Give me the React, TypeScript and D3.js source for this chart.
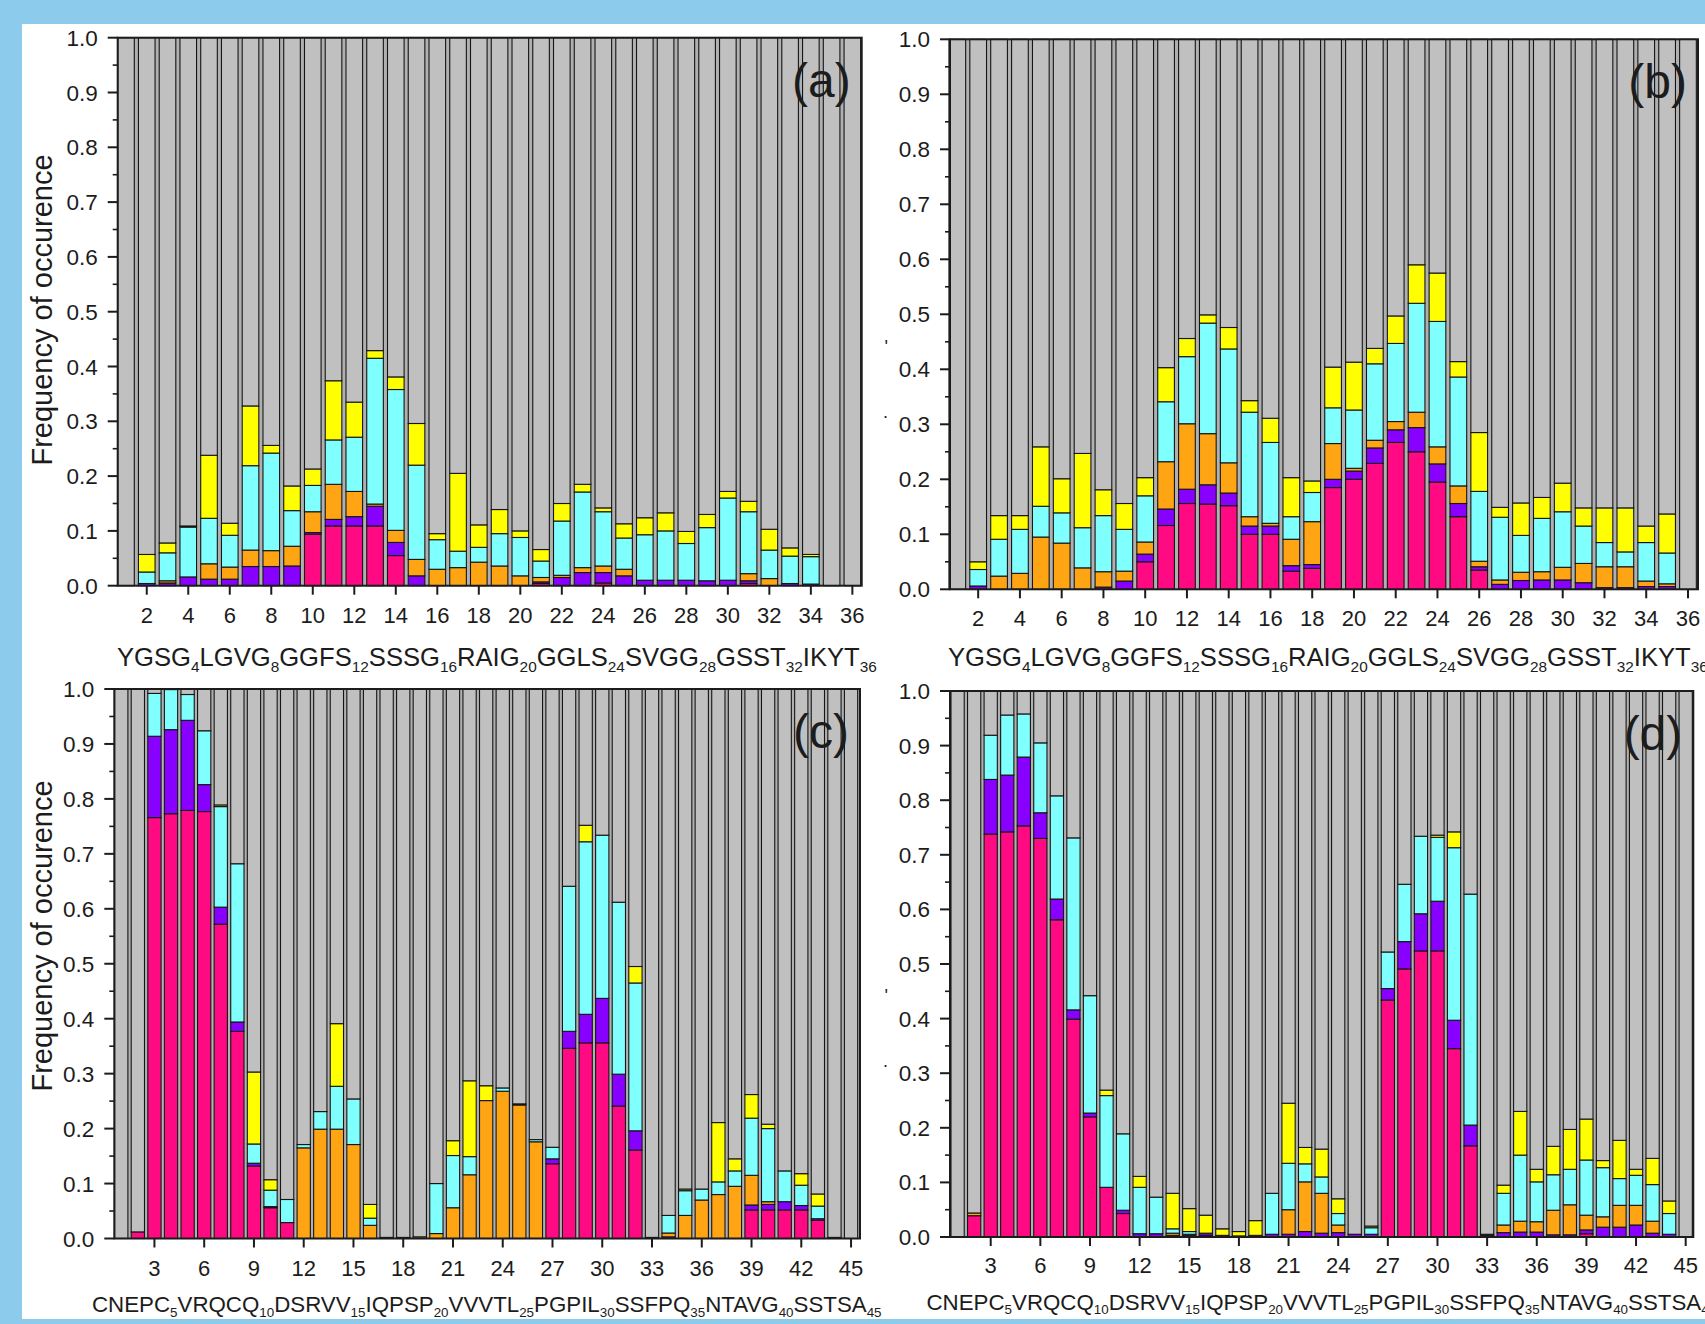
import React, { useEffect } from "react";
import * as d3 from "d3";

// stack order from the bottom; the grey part fills each bar up to 1.0
const KEYS = ["pink", "violet", "orange", "cyan", "yellow"];
const COLORS = {
  pink: "#ff0a82",
  violet: "#8800ff",
  orange: "#ffa514",
  cyan: "#80ffff",
  yellow: "#ffff00",
  rest: "#c0c0c0",
};

// ---- panel (a), residues 1..36
const aPink = [0, 0, 0, 0, 0, 0, 0, 0, 0, 0.094, 0.109, 0.109, 0.109, 0.055, 0, 0, 0, 0, 0, 0, 0.004, 0, 0, 0.005, 0, 0, 0, 0, 0, 0, 0.004, 0, 0, 0, 0, 0];
const aViolet = [0, 0.004, 0.005, 0.016, 0.012, 0.012, 0.035, 0.035, 0.036, 0.003, 0.012, 0.017, 0.036, 0.024, 0.018, 0, 0, 0, 0, 0, 0.003, 0.015, 0.024, 0.019, 0.018, 0.01, 0.01, 0.01, 0.009, 0.01, 0.005, 0, 0.004, 0.003, 0, 0];
const aOrange = [0, 0, 0.004, 0, 0.028, 0.022, 0.03, 0.029, 0.036, 0.038, 0.064, 0.046, 0.004, 0.022, 0.03, 0.03, 0.033, 0.043, 0.036, 0.018, 0.008, 0.004, 0.009, 0.012, 0.012, 0, 0, 0, 0, 0, 0.013, 0.013, 0, 0, 0, 0];
const aCyan = [0, 0.021, 0.051, 0.091, 0.083, 0.058, 0.154, 0.178, 0.065, 0.048, 0.081, 0.099, 0.266, 0.257, 0.172, 0.054, 0.03, 0.027, 0.059, 0.07, 0.03, 0.099, 0.138, 0.099, 0.057, 0.083, 0.09, 0.067, 0.097, 0.15, 0.113, 0.052, 0.05, 0.05, 0, 0];
const aYellow = [0, 0.032, 0.018, 0.002, 0.115, 0.022, 0.109, 0.014, 0.045, 0.03, 0.108, 0.064, 0.014, 0.023, 0.076, 0.011, 0.142, 0.041, 0.044, 0.012, 0.021, 0.032, 0.014, 0.007, 0.026, 0.031, 0.033, 0.022, 0.024, 0.012, 0.019, 0.038, 0.015, 0.004, 0, 0];

// ---- panel (b), residues 1..36
const bPink = [0, 0, 0, 0, 0, 0, 0, 0, 0, 0.05, 0.116, 0.156, 0.155, 0.152, 0.1, 0.1, 0.033, 0.038, 0.185, 0.2, 0.229, 0.267, 0.25, 0.195, 0.132, 0.035, 0, 0, 0, 0, 0, 0, 0, 0, 0, 0];
const bViolet = [0, 0.006, 0, 0, 0, 0, 0, 0.004, 0.015, 0.014, 0.03, 0.026, 0.035, 0.023, 0.015, 0.015, 0.01, 0.007, 0.015, 0.015, 0.028, 0.023, 0.044, 0.033, 0.024, 0.006, 0.009, 0.016, 0.017, 0.017, 0.012, 0.003, 0.003, 0.005, 0.005, 0];
const bOrange = [0, 0, 0.024, 0.029, 0.095, 0.084, 0.039, 0.028, 0.018, 0.022, 0.086, 0.119, 0.093, 0.055, 0.017, 0.005, 0.048, 0.078, 0.065, 0.005, 0.014, 0.015, 0.028, 0.031, 0.032, 0.01, 0.008, 0.015, 0.015, 0.023, 0.035, 0.038, 0.038, 0.01, 0.005, 0];
const bCyan = [0, 0.03, 0.067, 0.08, 0.056, 0.055, 0.073, 0.102, 0.076, 0.084, 0.109, 0.122, 0.201, 0.207, 0.19, 0.147, 0.041, 0.053, 0.065, 0.106, 0.139, 0.142, 0.198, 0.228, 0.198, 0.127, 0.114, 0.067, 0.097, 0.101, 0.068, 0.044, 0.027, 0.07, 0.056, 0];
const bYellow = [0, 0.014, 0.043, 0.025, 0.108, 0.062, 0.135, 0.047, 0.047, 0.033, 0.062, 0.033, 0.015, 0.039, 0.021, 0.044, 0.071, 0.021, 0.074, 0.087, 0.028, 0.05, 0.07, 0.088, 0.028, 0.107, 0.018, 0.059, 0.038, 0.052, 0.033, 0.063, 0.08, 0.03, 0.071, 0];

// ---- panel (c), residues 1..45
const cPink = [0, 0.012, 0.766, 0.773, 0.779, 0.777, 0.572, 0.377, 0.132, 0.056, 0.029, 0, 0, 0, 0, 0, 0, 0, 0, 0, 0, 0, 0, 0, 0, 0, 0.136, 0.346, 0.356, 0.356, 0.241, 0.161, 0, 0, 0, 0, 0, 0, 0.052, 0.052, 0.052, 0.052, 0.033, 0, 0];
const cViolet = [0, 0, 0.148, 0.153, 0.164, 0.049, 0.031, 0.017, 0.005, 0.002, 0, 0, 0, 0, 0, 0, 0, 0, 0, 0, 0, 0, 0, 0, 0, 0, 0.009, 0.031, 0.052, 0.081, 0.058, 0.035, 0, 0.003, 0, 0, 0, 0, 0.009, 0.01, 0.015, 0.008, 0.003, 0, 0];
const cOrange = [0, 0, 0, 0, 0, 0, 0, 0, 0, 0, 0, 0.165, 0.199, 0.199, 0.171, 0.024, 0.002, 0.002, 0.003, 0.009, 0.056, 0.116, 0.251, 0.268, 0.243, 0.176, 0, 0, 0, 0, 0, 0, 0.002, 0.007, 0.042, 0.07, 0.08, 0.095, 0.054, 0.005, 0, 0, 0, 0.002, 0];
const cCyan = [0, 0, 0.078, 0.073, 0.047, 0.098, 0.183, 0.288, 0.035, 0.03, 0.042, 0.006, 0.032, 0.078, 0.083, 0.013, 0, 0, 0, 0.091, 0.095, 0.033, 0, 0.006, 0.002, 0.004, 0.021, 0.264, 0.314, 0.297, 0.313, 0.269, 0, 0.032, 0.045, 0.02, 0.023, 0.028, 0.104, 0.133, 0.056, 0.037, 0.023, 0, 0];
const cYellow = [0, 0, 0, 0, 0, 0, 0.003, 0, 0.131, 0.019, 0, 0, 0, 0.114, 0, 0.025, 0, 0, 0, 0, 0.027, 0.138, 0.027, 0, 0, 0, 0, 0, 0.03, 0, 0, 0.03, 0, 0, 0.003, 0, 0.108, 0.022, 0.043, 0.008, 0, 0.021, 0.022, 0, 0];

// ---- panel (d), residues 1..45
const dPink = [0, 0.039, 0.738, 0.742, 0.753, 0.73, 0.581, 0.399, 0.22, 0.091, 0.043, 0, 0, 0, 0, 0.003, 0, 0, 0, 0, 0, 0, 0, 0, 0, 0, 0.434, 0.491, 0.524, 0.524, 0.345, 0.167, 0.003, 0, 0, 0, 0, 0, 0.006, 0, 0, 0, 0, 0, 0];
const dViolet = [0, 0, 0.1, 0.104, 0.126, 0.047, 0.038, 0.017, 0.007, 0, 0.006, 0.006, 0.006, 0.003, 0.003, 0.004, 0.003, 0.002, 0.003, 0.005, 0.005, 0.01, 0.007, 0.008, 0.005, 0.005, 0.021, 0.05, 0.068, 0.091, 0.052, 0.038, 0.002, 0.008, 0.009, 0.009, 0.004, 0.004, 0.007, 0.018, 0.018, 0.022, 0.007, 0.005, 0];
const dOrange = [0, 0.005, 0, 0, 0, 0, 0, 0, 0, 0, 0, 0, 0, 0.004, 0.002, 0, 0, 0, 0, 0, 0.045, 0.091, 0.073, 0.014, 0, 0, 0, 0, 0, 0, 0, 0, 0, 0.014, 0.02, 0.019, 0.045, 0.055, 0.027, 0.019, 0.04, 0.036, 0.022, 0, 0];
const dCyan = [0, 0, 0.081, 0.11, 0.079, 0.128, 0.189, 0.315, 0.215, 0.168, 0.14, 0.085, 0.067, 0.008, 0.005, 0, 0, 0, 0, 0.075, 0.085, 0.033, 0.03, 0.021, 0, 0.012, 0.067, 0.105, 0.142, 0.117, 0.316, 0.423, 0, 0.058, 0.121, 0.073, 0.065, 0.065, 0.101, 0.09, 0.049, 0.055, 0.067, 0.038, 0];
const dYellow = [0, 0, 0, 0, 0, 0, 0, 0, 0, 0.01, 0, 0.02, 0, 0.065, 0.042, 0.033, 0.012, 0.008, 0.027, 0, 0.11, 0.03, 0.051, 0.027, 0, 0.003, 0, 0, 0, 0.004, 0.029, 0, 0, 0.015, 0.08, 0.023, 0.052, 0.073, 0.075, 0.013, 0.07, 0.011, 0.048, 0.023, 0];

// tick labels
const yTicks = [0, 0.1, 0.2, 0.3, 0.4, 0.5, 0.6, 0.7, 0.8, 0.9, 1.0];
const yMinor = [0.05, 0.15, 0.25, 0.35, 0.45, 0.55, 0.65, 0.75, 0.85, 0.95];
const xTicksAB = [2, 4, 6, 8, 10, 12, 14, 16, 18, 20, 22, 24, 26, 28, 30, 32, 34, 36];
const xTicksCD = [3, 6, 9, 12, 15, 18, 21, 24, 27, 30, 33, 36, 39, 42, 45];

// sequences under the axes: [letters, subscript]
const seqAB = [["YGSG", "4"], ["LGVG", "8"], ["GGFS", "12"], ["SSSG", "16"], ["RAIG", "20"], ["GGLS", "24"], ["SVGG", "28"], ["GSST", "32"], ["IKYT", "36"]];
const seqCD = [["CNEPC", "5"], ["VRQCQ", "10"], ["DSRVV", "15"], ["IQPSP", "20"], ["VVVTL", "25"], ["PGPIL", "30"], ["SSFPQ", "35"], ["NTAVG", "40"], ["SSTSA", "45"]];

const FONT = "'Liberation Sans', Arial, Helvetica, sans-serif";
const INK = "#1c1c1c";

function Panel({ box, domain, series, xTicks, seq, seqSize, seqX, seqY, tickY, tag, titleY, marks }) {
  const n = series.pink.length;
  const rows = d3.range(n).map((i) => {
    const r = { pos: i + 1 };
    let s = 0;
    KEYS.forEach((k) => {
      r[k] = series[k][i];
      s += series[k][i];
    });
    r.rest = Math.max(0, 1 - s);
    return r;
  });
  const layers = d3.stack().keys([...KEYS, "rest"])(rows);

  const x = d3.scaleLinear().domain(domain).range([box.left, box.right]);
  const y = d3.scaleLinear().domain([0, 1]).range([box.bottom, box.top]);
  const bw = (x(1) - x(0)) * 0.8;

  return (
    <g>
      <rect x={box.left} y={box.top} width={box.right - box.left} height={box.bottom - box.top} fill="#b0b0b0" />
      {layers.map((layer) => (
        <g key={layer.key} fill={COLORS[layer.key]} stroke="#151515" strokeWidth={1.1}>
          {layer.map((d, i) =>
            d[1] - d[0] > 1e-6 ? (
              <rect
                key={i}
                x={x(d.data.pos) - bw / 2}
                y={y(d[1])}
                width={bw}
                height={y(d[0]) - y(d[1])}
              />
            ) : null
          )}
        </g>
      ))}
      <rect
        x={box.left}
        y={box.top}
        width={box.right - box.left}
        height={box.bottom - box.top}
        fill="none"
        stroke={INK}
        strokeWidth={2}
      />
      {/* y axis */}
      {yTicks.map((t) => (
        <g key={t}>
          <line x1={box.left - 10} x2={box.left} y1={y(t)} y2={y(t)} stroke={INK} strokeWidth={2} />
          <text
            x={box.left - 20}
            y={y(t) + 8}
            textAnchor="end"
            fontSize={22.5}
            fontFamily={FONT}
            fill={INK}
          >
            {t.toFixed(1)}
          </text>
        </g>
      ))}
      {yMinor.map((t) => (
        <line key={t} x1={box.left - 5} x2={box.left} y1={y(t)} y2={y(t)} stroke={INK} strokeWidth={1.6} />
      ))}
      {/* x axis */}
      {xTicks.map((t) => (
        <g key={t}>
          <line x1={x(t)} x2={x(t)} y1={box.bottom} y2={box.bottom + 9} stroke={INK} strokeWidth={2} />
          <text x={x(t)} y={tickY} textAnchor="middle" fontSize={22} fontFamily={FONT} fill={INK}>
            {t}
          </text>
        </g>
      ))}
      <text x={seqX} y={seqY} fontSize={seqSize} fontFamily={FONT} fill={INK}>
        {seq.map(([txt, sub], i) => (
          <React.Fragment key={i}>
            <tspan dy={i === 0 ? 0 : -seqSize * 0.22}>{txt}</tspan>
            <tspan fontSize={seqSize * 0.6} dy={seqSize * 0.22}>
              {sub}
            </tspan>
          </React.Fragment>
        ))}
      </text>
      {titleY && (
        <text
          transform={`translate(52, ${titleY}) rotate(-90)`}
          textAnchor="middle"
          fontSize={29}
          fontFamily={FONT}
          fill={INK}
        >
          Frequency of occurence
        </text>
      )}
      {marks && (
        <g fontFamily={FONT} fill={INK} fontSize={18} textAnchor="end">
          <text x={box.left - 62} y={y(0.445) + 8}>'</text>
          <text x={box.left - 62} y={y(0.318) + 4}>.</text>
        </g>
      )}
      <text
        x={box.right - 11}
        y={box.top + 59}
        textAnchor="end"
        fontSize={48}
        fontFamily={FONT}
        fill={INK}
      >
        {tag}
      </text>
    </g>
  );
}

export default function App() {
  useEffect(() => {
    document.body.style.margin = "0";
  }, []);

  return (
    <svg width={1705} height={1324} style={{ display: "block" }}>
      <rect width={1705} height={1324} fill="#8ccbec" />
      <rect x={22} y={24} width={1683} height={1295} fill="#ffffff" />
      <Panel
        box={{ left: 117.7, right: 861.7, top: 37.7, bottom: 585.7 }}
        domain={[0.6, 36.45]}
        series={{ pink: aPink, violet: aViolet, orange: aOrange, cyan: aCyan, yellow: aYellow }}
        xTicks={xTicksAB}
        seq={seqAB}
        seqSize={25.6}
        seqX={117}
        seqY={666}
        tickY={623}
        tag="(a)"
        titleY={310}
      />
      <Panel
        box={{ left: 950, right: 1698, top: 39.3, bottom: 589.3 }}
        domain={[0.65, 36.48]}
        series={{ pink: bPink, violet: bViolet, orange: bOrange, cyan: bCyan, yellow: bYellow }}
        xTicks={xTicksAB}
        seq={seqAB}
        seqSize={25.6}
        seqX={948}
        seqY={666}
        tickY={626}
        tag="(b)"
        marks
      />
      <Panel
        box={{ left: 114.3, right: 860, top: 689, bottom: 1238.5 }}
        domain={[0.58, 45.54]}
        series={{ pink: cPink, violet: cViolet, orange: cOrange, cyan: cCyan, yellow: cYellow }}
        xTicks={xTicksCD}
        seq={seqCD}
        seqSize={22.3}
        seqX={92}
        seqY={1312}
        tickY={1275.5}
        tag="(c)"
        titleY={936}
      />
      <Panel
        box={{ left: 950, right: 1693.3, top: 691, bottom: 1237 }}
        domain={[0.54, 45.46]}
        series={{ pink: dPink, violet: dViolet, orange: dOrange, cyan: dCyan, yellow: dYellow }}
        xTicks={xTicksCD}
        seq={seqCD}
        seqSize={22.3}
        seqX={926.5}
        seqY={1309.5}
        tickY={1273}
        tag="(d)"
        marks
      />
    </svg>
  );
}
